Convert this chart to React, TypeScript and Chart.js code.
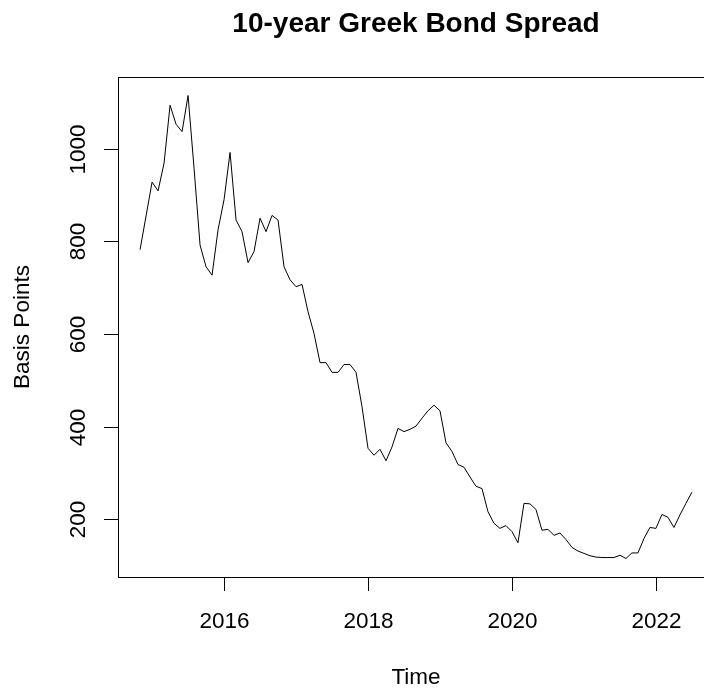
import React, { useEffect, useRef } from "react";
import { Chart, registerables } from "chart.js";

Chart.register(...registerables);

// Monthly series, Nov 2014 .. Jul 2022
const startYear = 2014;
const startMonth = 11;
const spread = [
  782, 855, 928, 909, 969, 1094, 1053, 1037, 1115, 958, 792, 745,
  727, 825, 890, 992, 846, 821, 754, 778, 850, 821, 856, 846,
  745, 717, 702, 707, 648, 601, 538, 538, 517, 517, 534, 534,
  517, 443, 353, 338, 351, 326, 356, 396, 389, 394, 401, 418,
  434, 446, 434, 365, 346, 318, 312, 291, 271, 266, 216, 191,
  180, 186, 173, 149, 234, 233, 221, 176, 178, 165, 170, 156,
  139, 131, 126, 121, 118, 117, 117, 117, 122, 115, 127, 127,
  158, 182, 180, 210, 204, 182, 209, 234, 258,
];
const xTicks = [2016, 2018, 2020, 2022];
const yTicks = [200, 400, 600, 800, 1000];
const titleText = "10-year Greek Bond Spread";
const xTitle = "Time";
const yTitle = "Basis Points";

const FONT = '"Liberation Sans", Arial, sans-serif';

export default function App() {
  const ref = useRef<HTMLCanvasElement>(null);

  useEffect(() => {
    if (!ref.current) return;
    const times = spread.map((_, i) => startYear + (startMonth - 1 + i) / 12);
    const points = spread.map((v, i) => ({ x: times[i], y: v }));
    const tMin = Math.min(...times);
    const tMax = Math.max(...times);
    const vMin = Math.min(...spread);
    const vMax = Math.max(...spread);
    const tPad = (tMax - tMin) * 0.04;
    const vPad = (vMax - vMin) * 0.04;

    const rAxes = {
      id: "rAxes",
      afterDraw(chart: any) {
        const ctx = chart.ctx as CanvasRenderingContext2D;
        const a = chart.chartArea;
        const xs = chart.scales.x;
        const ys = chart.scales.y;
        ctx.save();
        ctx.strokeStyle = "#000";
        ctx.fillStyle = "#000";
        ctx.lineWidth = 1;
        // box
        ctx.strokeRect(Math.round(a.left) + 0.5, Math.round(a.top) + 0.5,
          Math.round(a.right - a.left), Math.round(a.bottom - a.top));
        // x ticks
        ctx.font = `22.5px ${FONT}`;
        ctx.textAlign = "center";
        ctx.textBaseline = "alphabetic";
        for (const t of xTicks) {
          const px = Math.round(xs.getPixelForValue(t)) + 0.5;
          ctx.beginPath();
          ctx.moveTo(px, a.bottom);
          ctx.lineTo(px, a.bottom + 14);
          ctx.stroke();
          ctx.fillText(String(t), px, a.bottom + 51);
        }
        // y ticks
        for (const v of yTicks) {
          const py = Math.round(ys.getPixelForValue(v)) + 0.5;
          ctx.beginPath();
          ctx.moveTo(a.left, py);
          ctx.lineTo(a.left - 14, py);
          ctx.stroke();
          ctx.save();
          ctx.translate(a.left - 33, py);
          ctx.rotate(-Math.PI / 2);
          ctx.fillText(String(v), 0, 0);
          ctx.restore();
        }
        const cx = (a.left + a.right) / 2;
        const cy = (a.top + a.bottom) / 2;
        // axis titles
        ctx.fillText(xTitle, cx, a.bottom + 107);
        ctx.save();
        ctx.translate(a.left - 89, cy);
        ctx.rotate(-Math.PI / 2);
        ctx.fillText(yTitle, 0, 0);
        ctx.restore();
        // main title
        ctx.font = `bold 28px ${FONT}`;
        ctx.fillText(titleText, cx, 32);
        ctx.restore();
      },
    };

    const chart = new Chart(ref.current, {
      type: "line",
      data: {
        datasets: [
          {
            data: points,
            borderColor: "#000",
            borderWidth: 1,
            pointRadius: 0,
            tension: 0,
            fill: false,
          },
        ],
      },
      options: {
        responsive: false,
        animation: false,
        devicePixelRatio: 1,
        events: [],
        layout: { padding: { left: 118, top: 77, right: 6, bottom: 116 } },
        plugins: {
          legend: { display: false },
          title: { display: false },
          tooltip: { enabled: false },
        },
        scales: {
          x: { type: "linear", display: false, min: tMin - tPad, max: tMax + tPad },
          y: { type: "linear", display: false, min: vMin - vPad, max: vMax + vPad },
        },
      },
      plugins: [rAxes],
    } as any);
    return () => chart.destroy();
  }, []);

  return (
    <div
      style={{
        position: "fixed",
        top: 0,
        left: 0,
        width: 704,
        height: 693,
        overflow: "hidden",
        background: "#fff",
      }}
    >
      <canvas ref={ref} width={720} height={693} style={{ display: "block" }} />
    </div>
  );
}
